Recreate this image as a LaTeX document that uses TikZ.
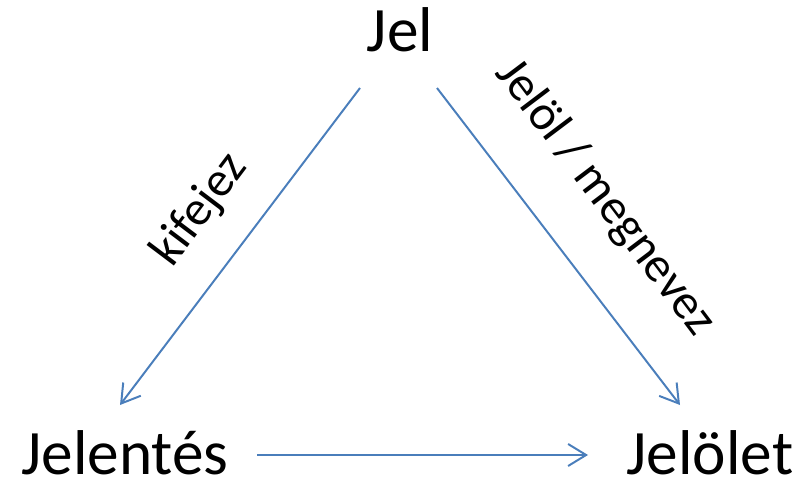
\documentclass[tikz,border=0pt]{standalone}
\usepackage{fontspec}
\setmainfont{Carlito}
\usepackage{xcolor}
\usepackage{tikz}
\usetikzlibrary{arrows.meta, calc}

\definecolor{lineblue}{HTML}{4A7EBB}

\begin{document}
\begin{tikzpicture}[
    x=0.025cm, y=-0.025cm,
    term/.style={inner sep=0pt, anchor=base, font=\fontsize{45}{54}\selectfont},
    lbl/.style={inner sep=0pt, font=\fontsize{35}{42}\selectfont},
    arrow/.style={-{Straight Barb[length=4.5mm, width=5.5mm]}, draw=lineblue, line width=1.4pt},
]
\useasboundingbox (0,0) rectangle (808,479);

% Terms
\node[term] (jel) at (400, 52) {Jel};
\node[term] (jelentes) at (125, 474) {Jelentés};
\node[term] (jelolet) at (710, 474) {Jelölet};

% Relations
\node[lbl, rotate=53] (kifejez) at (200, 210) {kifejez};
\node[lbl, rotate=-53] (jelol) at (605, 198) {Jelöl / megnevez};

% Arrows
\draw[arrow] ($(jel.base)+(-40,36)$) -- ($(jelentes.base)+(-5,-69)$);
\draw[arrow] ($(jel.base)+(37,36)$) -- ($(jelolet.base)+(-30,-69)$);
\draw[arrow] ($(jelentes.base)+(132,-19)$) -- ($(jelolet.base)+(-122,-19)$);

\end{tikzpicture}
\end{document}
